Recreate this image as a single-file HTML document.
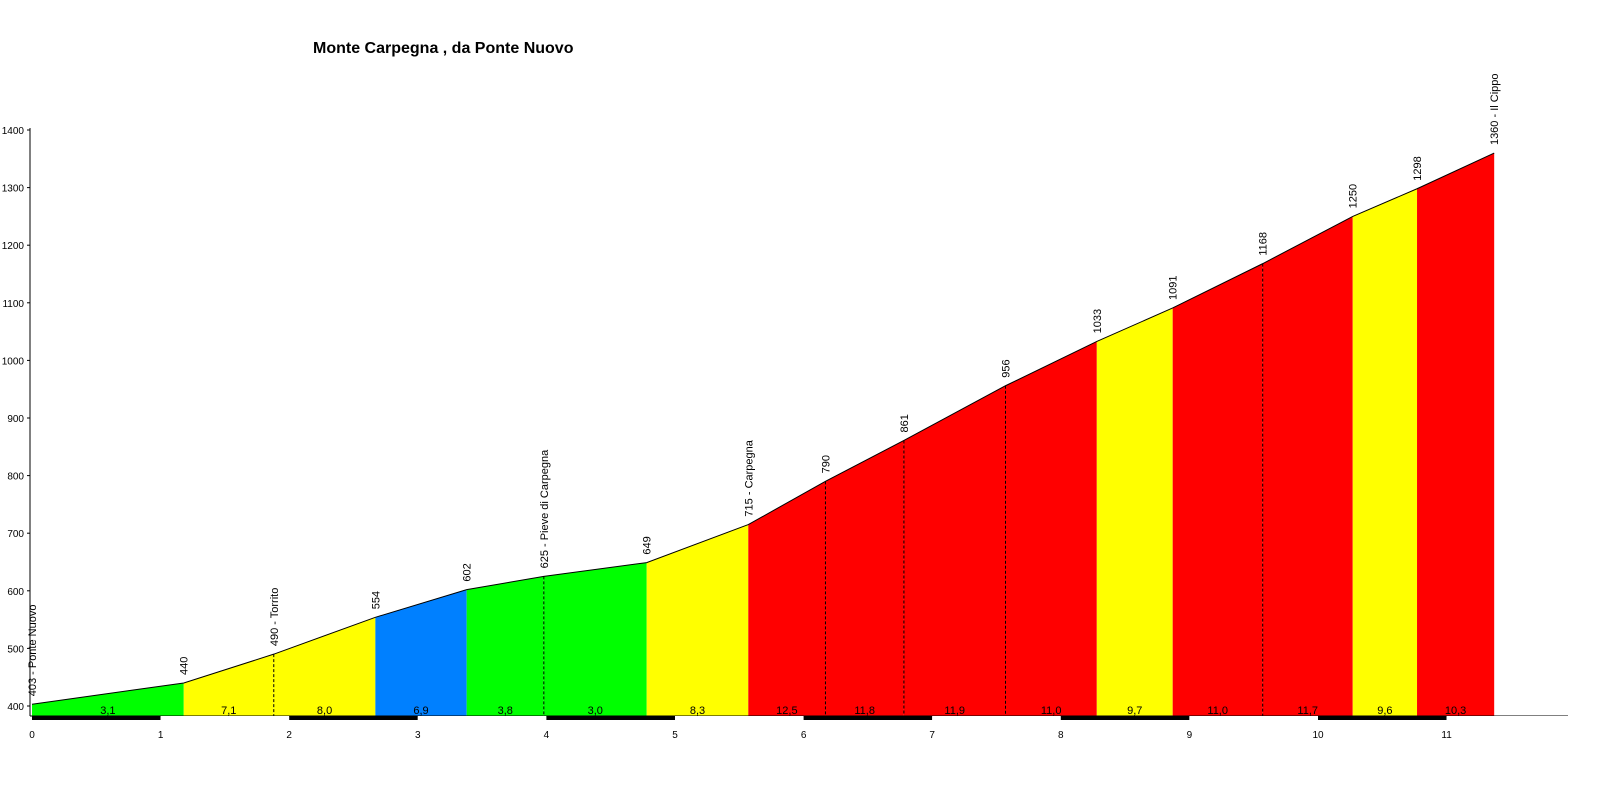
<!DOCTYPE html>
<html><head><meta charset="utf-8"><style>
html,body{margin:0;padding:0;background:#fff;}
svg{display:block;font-family:"Liberation Sans",sans-serif;}
</style></head><body>
<svg id="chart" width="1600" height="800" xmlns="http://www.w3.org/2000/svg">
<text x="313" y="53" font-size="16" font-weight="bold">Monte Carpegna , da Ponte Nuovo</text>
</svg>
<script>
const kms   = [0,1.18,1.88,2.67,3.38,3.98,4.78,5.57,6.17,6.78,7.57,8.28,8.87,9.57,10.27,10.77,11.37];
const elevs = [403,440,490,554,602,625,649,715,790,861,956,1033,1091,1168,1250,1298,1360];
const names = ["Ponte Nuovo","","Torrito","","","Pieve di Carpegna","","Carpegna","","","","","","","","","Il Cippo"];
const grads = ["3,1","7,1","8,0","6,9","3,8","3,0","8,3","12,5","11,8","11,9","11,0","9,7","11,0","11,7","9,6","10,3"];
const colors= ["#00ff00","#ffff00","#ffff00","#0080ff","#00ff00","#00ff00","#ffff00","#ff0000","#ff0000","#ff0000","#ff0000","#ffff00","#ff0000","#ff0000","#ffff00","#ff0000"];
const yTicks=[400,500,600,700,800,900,1000,1100,1200,1300,1400];
const xTicks=[0,1,2,3,4,5,6,7,8,9,10,11];
const X=k=>32+k*128.6;
const Y=e=>706-(e-400)*0.576;
const BASE=716;
const svg=document.getElementById('chart');
const NS="http://www.w3.org/2000/svg";
function mk(t,a){const e=document.createElementNS(NS,t);for(const k in a)e.setAttribute(k,a[k]);svg.appendChild(e);return e;}
for(let i=0;i<grads.length;i++){
  const x0=X(kms[i]),x1=X(kms[i+1]);
  const p=mk('polygon',{points:`${x0},${BASE} ${x0},${Y(elevs[i])} ${x1},${Y(elevs[i+1])} ${x1},${BASE}`,fill:colors[i]});
  
  
  const t=mk('text',{x:(x0+x1)/2,y:714,'font-size':11,'text-anchor':'middle',fill:'#000'});
  t.textContent=grads[i];
  
  
  if(i>0&&colors[i]===colors[i-1]){
    const d=mk('line',{x1:x0,x2:x0,y1:Y(elevs[i]),y2:BASE,stroke:'#000','stroke-dasharray':'3,2','stroke-width':1});
    
    
  }
}
const pl=mk('polyline',{points:kms.map((k,i)=>X(k)+','+Y(elevs[i])).join(' '),fill:'none',stroke:'#000','stroke-width':1});


kms.forEach((k,i)=>{
  const x=X(k)+4,y=Y(elevs[i])-8;
  const t=mk('text',{x:x,y:y,'font-size':11,transform:`rotate(-90 ${x} ${y})`});
  t.textContent=elevs[i]+(names[i]?' - '+names[i]:'');
  
  
});
// y axis
const ya=mk('line',{x1:30,x2:30,y1:128,y2:BASE,stroke:'#000'});


yTicks.forEach(v=>{
  const tk=mk('line',{x1:27,x2:30,y1:Y(v),y2:Y(v),stroke:'#000'});
  
  
  const t=mk('text',{x:24,y:Y(v)+4,'font-size':10,'text-anchor':'end'});
  t.textContent=v;
  
  
});
// x axis strip
const xa=mk('line',{x1:30,x2:1568,y1:BASE,y2:BASE,stroke:'#000'});


for(let k=0;k<12;k++){
  const r=mk('rect',{x:X(k),y:BASE,width:128.6,height:4,fill:k%2===0?'#000':'#fff'});
  
  
}
xTicks.forEach(v=>{
  const t=mk('text',{x:X(v),y:738,'font-size':10,'text-anchor':'middle'});
  t.textContent=v;
  
  
});
</script>
</body></html>
